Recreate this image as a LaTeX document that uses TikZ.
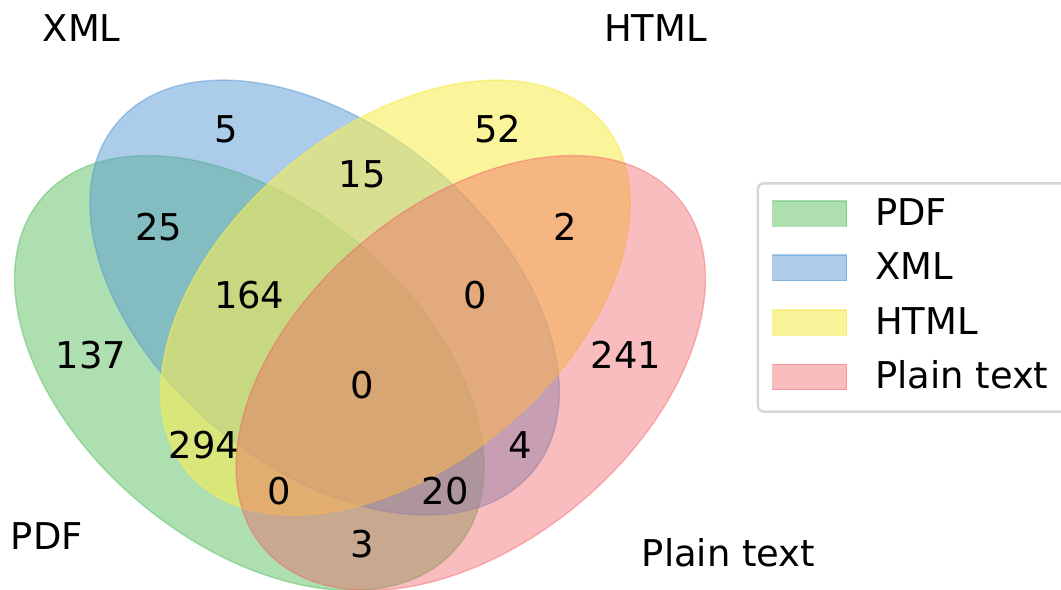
\documentclass[tikz,border=0pt]{standalone}
\usepackage{fontspec}
\setmainfont{DejaVu Sans}
\definecolor{cpdf}{RGB}{92,192,98}
\definecolor{cxml}{RGB}{90,155,212}
\definecolor{chtml}{RGB}{246,236,86}
\definecolor{cplain}{RGB}{241,90,96}
\definecolor{frameg}{RGB}{214,214,214}
\begin{document}
\begin{tikzpicture}[x=7.535cm,y=7.54cm,
  setshape/.style={fill=#1, draw=#1, line width=0.4pt},
  num/.style={anchor=base, inner sep=0pt, font=\fontsize{10.5}{12}\selectfont},
  setname/.style={inner sep=0pt, font=\fontsize{10.5}{12}\selectfont},
  legpatch/.style={draw=#1, fill=#1, line width=0.4pt, minimum width=0.74cm, minimum height=0.255cm, inner sep=0pt},
  legtext/.style={anchor=base west, inner sep=0pt, font=\fontsize{10.5}{12}\selectfont},
  legframe/.style={draw=frameg, fill=white, line width=0.7pt, rounded corners=0.06cm}
]
\useasboundingbox (0.0192,0.1122) rectangle ++(10.61cm,5.90cm);
\clip (0.0192,0.1122) rectangle ++(10.61cm,5.90cm);

% sets
\path[setshape=cpdf, fill opacity=0.5, draw opacity=0.5]
  (0.350,0.400) circle [x radius=2.7126cm, y radius=1.6954cm, rotate=140];
\path[setshape=cxml, fill opacity=0.5, draw opacity=0.5]
  (0.450,0.500) circle [x radius=2.7126cm, y radius=1.6954cm, rotate=140];
\path[setshape=chtml, fill opacity=0.6, draw opacity=0.6]
  (0.544,0.500) circle [x radius=2.7126cm, y radius=1.6954cm, rotate=40];
\path[setshape=cplain, fill opacity=0.4, draw opacity=0.4]
  (0.644,0.400) circle [x radius=2.7126cm, y radius=1.6954cm, rotate=40];

% region counts
\node[num] (r0001) at (0.85,0.4059) {241};
\node[num] (r0010) at (0.68,0.7059) {52};
\node[num] (r0011) at (0.77,0.5759) {2};
\node[num] (r0100) at (0.32,0.7059) {5};
\node[num] (r0101) at (0.71,0.2859) {4};
\node[num] (r0110) at (0.50,0.6459) {15};
\node[num] (r0111) at (0.65,0.4859) {0};
\node[num] (r1000) at (0.14,0.4059) {137};
\node[num] (r1001) at (0.50,0.1559) {3};
\node[num] (r1010) at (0.29,0.2859) {294};
\node[num] (r1011) at (0.39,0.2259) {0};
\node[num] (r1100) at (0.23,0.5759) {25};
\node[num] (r1101) at (0.61,0.2259) {20};
\node[num] (r1110) at (0.35,0.4859) {164};
\node[num] (r1111) at (0.50,0.3659) {0};

% set names
\node[setname, anchor=base east] (nPDF) at (0.13,0.1653) {PDF};
\node[setname, anchor=base east] (nXML) at (0.18,0.8390) {XML};
\node[setname, anchor=base west] (nHTML) at (0.82,0.8390) {HTML};
\node[setname, anchor=base west] (nPlain) at (0.87,0.1431) {Plain text};

% legend
\path[legframe] (1.025,0.3487) rectangle (1.47,0.6516);
\node[legpatch=cpdf, fill opacity=0.5, draw opacity=0.5] (lpPDF) at (1.0939,0.6113) {};
\node[legpatch=cxml, fill opacity=0.5, draw opacity=0.5] (lpXML) at (1.0939,0.5393) {};
\node[legpatch=chtml, fill opacity=0.6, draw opacity=0.6] (lpHTML) at (1.0939,0.4668) {};
\node[legpatch=cplain, fill opacity=0.4, draw opacity=0.4] (lpPlain) at (1.0939,0.3947) {};
\node[legtext] (ltPDF) at (1.1796,0.5958) {PDF};
\node[legtext] (ltXML) at (1.1796,0.5237) {XML};
\node[legtext] (ltHTML) at (1.1796,0.4512) {HTML};
\node[legtext] (ltPlain) at (1.1796,0.3792) {Plain text};
\end{tikzpicture}
\end{document}
